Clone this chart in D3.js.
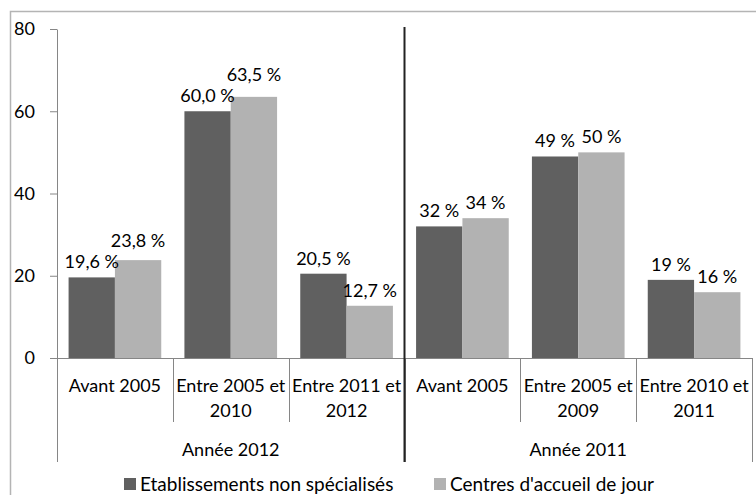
<!DOCTYPE html>
<html>
<head>
<meta charset="utf-8">
<script src="https://cdn.jsdelivr.net/npm/d3@7"></script>
<style>
body { margin: 0; background: #fff; }
svg text { font-family: Lato, "Open Sans", sans-serif; fill: #000; }
</style>
</head>
<body>
<div id="chart"></div>
<script>
//////////////////////////////////////////////
// Data //////////////////////////////////////
//////////////////////////////////////////////
var groups = ["Année 2012", "Année 2011"];
var categories2012 = ["Avant 2005", "Entre 2005 et 2010", "Entre 2011 et 2012"];
var categories2011 = ["Avant 2005", "Entre 2005 et 2009", "Entre 2010 et 2011"];
var seriesNames = ["Etablissements non spécialisés", "Centres d'accueil de jour"];
var nonSpecialises = [19.6, 60.0, 20.5, 32, 49, 19];
var accueilJour = [23.8, 63.5, 12.7, 34, 50, 16];
var groupDecimals = [1, 0];   // 2012 labels with one decimal, 2011 labels rounded
var yTicks = [0, 20, 40, 60, 80];

var colors = ["#606060", "#b2b2b2"];

//////////////////////////////////////////////
// Chart Config /////////////////////////////
//////////////////////////////////////////////
var W = 756, H = 495;
var margin = {top: 29, right: 4, bottom: 137, left: 57};
var width = W - margin.left - margin.right,
    height = H - margin.top - margin.bottom;

// one row per bar category, with its group
var rows = [];
[categories2012, categories2011].forEach(function(cats, g) {
  cats.forEach(function(c) {
    var i = rows.length;
    rows.push({key: i, group: g, label: c, values: [nonSpecialises[i], accueilJour[i]]});
  });
});

var xScale = d3.scaleBand().domain(rows.map(function(d) { return d.key; }))
    .range([0, width]).paddingInner(0).paddingOuter(0);
var xInner = d3.scaleBand().domain([0, 1])
    .range([0, xScale.bandwidth()]).paddingOuter(0.25).paddingInner(0);
var yScale = d3.scaleLinear().domain([0, 80]).range([height, 0]);

var svg = d3.select("#chart").append("svg")
    .attr("width", W).attr("height", H);

// chart area border (cropped at right / bottom like the picture)
svg.append("rect")
    .attr("x", 10.5).attr("y", 11.5)
    .attr("width", 900).attr("height", 700)
    .attr("fill", "none").attr("stroke", "#b4b4b4").attr("stroke-width", 1.5);

var artboard = svg.append("g")
    .attr("transform", "translate(" + margin.left + "," + margin.top + ")");

// y axis
var yAxis = d3.axisLeft(yScale).tickValues(yTicks).tickSize(7).tickSizeOuter(0).tickPadding(15);
var yAxisEl = artboard.append("g").attr("class", "y axis").call(yAxis);
yAxisEl.select(".domain").attr("stroke", "#868686");
yAxisEl.selectAll(".tick line").attr("stroke", "#868686");
yAxisEl.selectAll("text").style("font-size", "18px").attr("fill", "#000");

// bars
var bar = artboard.selectAll(".cat").data(rows).enter().append("g")
    .attr("class", "cat")
    .attr("transform", function(d) { return "translate(" + xScale(d.key) + ",0)"; });

bar.selectAll("rect").data(function(d) {
    return d.values.map(function(v, s) { return {v: v, s: s, g: d.group}; });
  }).enter().append("rect")
    .attr("x", function(d) { return xInner(d.s); })
    .attr("y", function(d) { return yScale(d.v); })
    .attr("width", xInner.bandwidth())
    .attr("height", function(d) { return height - yScale(d.v); })
    .attr("fill", function(d) { return colors[d.s]; });

bar.selectAll("text.val").data(function(d) {
    return d.values.map(function(v, s) { return {v: v, s: s, g: d.group}; });
  }).enter().append("text")
    .attr("class", "val")
    .attr("x", function(d) { return xInner(d.s) + xInner.bandwidth() / 2; })
    .attr("y", function(d) { return yScale(d.v) - 9; })
    .attr("text-anchor", "middle")
    .style("font-size", "18px")
    .text(function(d) { return d3.format("." + groupDecimals[d.g] + "f")(d.v).replace(".", ",") + "\u00a0%"; });

// labels too wide for their bar: push the taller bar's label above the other one
bar.each(function() {
  var labs = d3.select(this).selectAll("text.val").nodes();
  var a = labs[0].getBBox(), b = labs[1].getBBox();
  var overlapX = a.x + a.width > b.x, overlapY = a.y < b.y + b.height && b.y < a.y + a.height;
  if (overlapX && overlapY) {
    var hi = a.y < b.y ? 0 : 1;   // label that is higher already
    var lo = labs[1 - hi].getBBox();
    var top = Math.min(a.y, b.y);
    if (hi == 1) d3.select(labs[1]).attr("y", lo.y - 3);
    else d3.select(labs[0]).attr("y", lo.y - 3);
  }
});

// category axis
var axisColor = "#868686";
artboard.append("line")
    .attr("x1", 0).attr("x2", width).attr("y1", height + 0.5).attr("y2", height + 0.5)
    .attr("stroke", axisColor);

rows.forEach(function(d, i) {
  var x0 = xScale(d.key);
  if (i > 0 && i % 3 != 0) {
    artboard.append("line")
      .attr("x1", Math.round(x0) + 0.5).attr("x2", Math.round(x0) + 0.5)
      .attr("y1", height).attr("y2", height + 64)
      .attr("stroke", axisColor);
  }
  // wrap "Entre xxxx et yyyy" on two lines
  var m = d.label.match(/^(.* et) (.*)$/);
  var lines = m ? [m[1], m[2]] : [d.label];
  var t = artboard.append("text")
    .attr("x", x0 + xScale.bandwidth() / 2)
    .attr("y", height + 34)
    .attr("text-anchor", "middle")
    .style("font-size", "18px");
  lines.forEach(function(l, k) {
    t.append("tspan").attr("x", x0 + xScale.bandwidth() / 2)
      .attr("dy", k == 0 ? 0 : 25).text(l);
  });
});

// group boundaries
[0, 3, 6].forEach(function(i) {
  var x = i < 6 ? xScale(i) : width;
  artboard.append("line")
    .attr("x1", Math.round(x) + 0.5).attr("x2", Math.round(x) + 0.5)
    .attr("y1", height).attr("y2", height + 104)
    .attr("stroke", axisColor);
});

groups.forEach(function(g, i) {
  var xa = xScale(i * 3), xb = i == 1 ? width : xScale(3);
  artboard.append("text")
    .attr("x", (xa + xb) / 2).attr("y", height + 98)
    .attr("text-anchor", "middle")
    .style("font-size", "18px")
    .text(g);
});

// hand drawn separator between the two years
artboard.append("line")
    .attr("x1", xScale(3)).attr("x2", xScale(3))
    .attr("y1", -2).attr("y2", height + 104)
    .attr("stroke", "#222").attr("stroke-width", 2);

// legend
var legendX = [124, 434];
var legend = svg.selectAll(".legend").data(seriesNames).enter().append("g")
    .attr("class", "legend")
    .attr("transform", function(d, i) { return "translate(" + legendX[i] + ",478)"; });
legend.append("rect")
    .attr("width", 12).attr("height", 12)
    .attr("fill", function(d, i) { return colors[i]; });
legend.append("text")
    .attr("x", 16).attr("y", 13)
    .style("font-size", "19px")
    .text(function(d) { return d; });
</script>
</body>
</html>
